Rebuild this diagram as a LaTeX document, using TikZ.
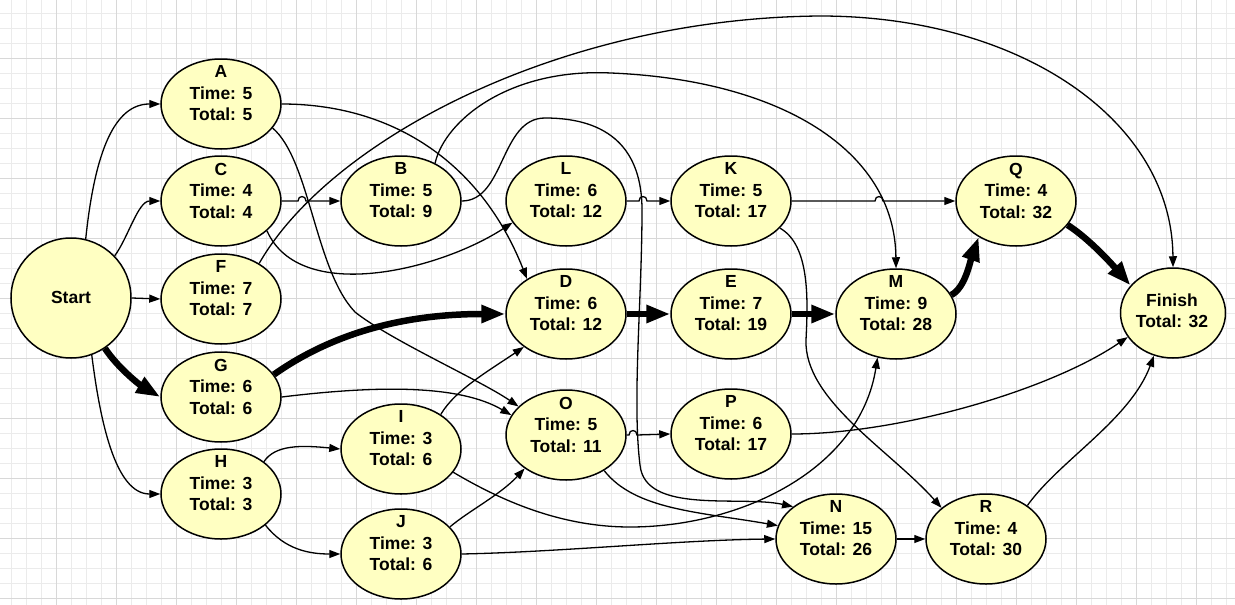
\documentclass[tikz,border=0pt]{standalone}
\usepackage{fontspec}
\setmainfont{Liberation Sans}
\usetikzlibrary{shapes.geometric,arrows.meta}
\definecolor{gridminor}{RGB}{235,235,235}
\definecolor{gridmajor}{RGB}{216,216,216}
\definecolor{evfill}{RGB}{255,255,194}
\newcommand\evnode[6]{\node[ev] (#1) at (#2,#3) {};
  \node[evtxt] (#1t) at (#2,#3) {#4\\Time: #5\\Total: #6};}
\begin{document}
\begin{tikzpicture}[x=1pt,y=-1pt,
  ev/.style={ellipse, draw, line width=1.5pt, fill=evfill, minimum width=120pt, minimum height=90pt, inner sep=0pt},
  evtxt/.style={align=center, font=\bfseries\fontsize{17.5}{21.5}\selectfont, yshift=10.5pt, inner sep=0pt},
  lbl/.style={align=center, font=\bfseries\fontsize{17.5}{21.5}\selectfont, inner sep=0pt},
  conn/.style={line width=1.3pt, -{Triangle[length=11pt,width=8pt]}},
  crit/.style={line width=6.5pt, -{Triangle[length=24pt,width=17pt]}},
  gmin/.style={gridminor, line width=1pt},
  gmaj/.style={gridmajor, line width=1pt}]
\useasboundingbox (0,0) rectangle (1235,605);
\fill[white] (0,0) rectangle (1235,605);
\foreach \x in {11.7,26.7,...,1235} \draw[gmin] (\x,0) -- (\x,605);
\foreach \y in {13.3,28.3,...,605} \draw[gmin] (0,\y) -- (1235,\y);
\foreach \x in {56.7,116.7,...,1235} \draw[gmaj] (\x,0) -- (\x,605);
\foreach \y in {58.3,118.3,...,605} \draw[gmaj] (0,\y) -- (1235,\y);

% nodes
\node[ev, circle, minimum size=120pt] (Start) at (71,298) {};
\node[lbl] (Startt) at (71,297) {Start};
\node[ev, minimum width=105pt] (Finish) at (1173,313) {};
\node[lbl] (Finisht) at (1172,311) {Finish\\Total: 32};
\evnode{A}{221}{104}{A}{5}{5}
\evnode{C}{221}{201}{C}{4}{4}
\evnode{F}{221}{299}{F}{7}{7}
\evnode{G}{221}{397}{G}{6}{6}
\evnode{H}{221}{494}{H}{3}{3}
\evnode{B}{401}{201}{B}{5}{9}
\evnode{I}{401}{449}{I}{3}{6}
\evnode{J}{401}{554}{J}{3}{6}
\evnode{L}{566}{201}{L}{6}{12}
\evnode{D}{566}{314}{D}{6}{12}
\evnode{O}{566}{435}{O}{5}{11}
\evnode{K}{731}{201}{K}{5}{17}
\evnode{E}{731}{314}{E}{7}{19}
\evnode{P}{731}{434}{P}{6}{17}
\evnode{M}{896}{314}{M}{9}{28}
\evnode{Q}{1016}{201}{Q}{4}{32}
\evnode{N}{836}{539}{N}{15}{26}
\evnode{R}{986}{539}{R}{4}{30}

% connectors from Start
\draw[conn] (Start.76) .. controls (95,150) and (115,104) .. (A.west);
\draw[conn] (Start.44) .. controls (128,238) and (138,201) .. (C.west);
\draw[conn] (Start.east) -- (F.west);
\draw[crit] (Start.-56) .. controls (118,368) and (140,385) .. (G.west);
\draw[conn] (Start.-70) .. controls (100,420) and (115,494) .. (H.west);

% first column
\draw[conn] (A.east) .. controls (390,104) and (480,160) .. (D.138);
\draw[conn] (A.-25) .. controls (310,160) and (315,270) .. (355,312) .. controls (390,340) and (480,380) .. (O.149);
\draw[conn] (C.east) -- (298,201) .. controls (298,195) and (306,195) .. (306,201) -- (B.west);
\draw[conn] (C.-33) .. controls (300,305) and (440,270) .. (L.202);
\draw[conn] (F.43) .. controls (330,140) and (560,18) .. (820,16) .. controls (1020,16) and (1172,120) .. (Finish.north);
\draw[crit] (G.23) .. controls (330,335) and (400,314) .. (D.west);
\draw[conn] (G.east) .. controls (380,385) and (460,385) .. (O.160);
\draw[conn] (H.37) .. controls (275,445) and (300,445) .. (I.west);
\draw[conn] (H.-35) .. controls (285,550) and (310,554) .. (J.west);

% second column
\draw[conn] (B.48) .. controls (445,120) and (510,68) .. (611,73) .. controls (780,80) and (895,150) .. (M.north);
\draw[conn] (B.east) .. controls (505,201) and (500,118) .. (545,118) .. controls (610,118) and (642,150) .. (642,210) .. controls (642,300) and (632,400) .. (640,465) .. controls (645,515) and (740,495) .. (N.143);
\draw[conn] (I.41) .. controls (455,390) and (490,370) .. (D.218);
\draw[conn] (I.-24) .. controls (500,500) and (560,527) .. (630,527) .. controls (740,527) and (860,470) .. (M.247);
\draw[conn] (J.29) .. controls (470,510) and (500,495) .. (O.219);
\draw[conn] (J.east) .. controls (560,552) and (680,540) .. (N.west);

% third column
\draw[conn] (L.east) -- (639,201) .. controls (639,195) and (647,195) .. (647,201) -- (K.west);
\draw[crit] (D.east) -- (E.west);
\draw[conn] (O.east) -- (629,435) .. controls (629,429) and (637,429) .. (637,435) -- (P.west);
\draw[conn] (O.-43) .. controls (635,510) and (700,512) .. (N.167);

% fourth column
\draw[conn] (K.east) -- (875,201) .. controls (875,195) and (883,195) .. (883,201) -- (Q.west);
\draw[conn] (K.-29) .. controls (810,245) and (808,300) .. (806,340) .. controls (804,400) and (890,450) .. (R.145);
\draw[crit] (E.east) -- (M.west);
\draw[conn] (P.east) .. controls (900,434) and (1050,390) .. (Finish.208);

% last
\draw[crit] (M.19) .. controls (965,288) and (970,262) .. (Q.224);
\draw[crit] (Q.-25) .. controls (1088,238) and (1110,262) .. (Finish.147);
\draw[conn] (N.east) -- (R.west);
\draw[conn] (R.39) .. controls (1060,460) and (1130,420) .. (Finish.246);
\end{tikzpicture}
\end{document}
